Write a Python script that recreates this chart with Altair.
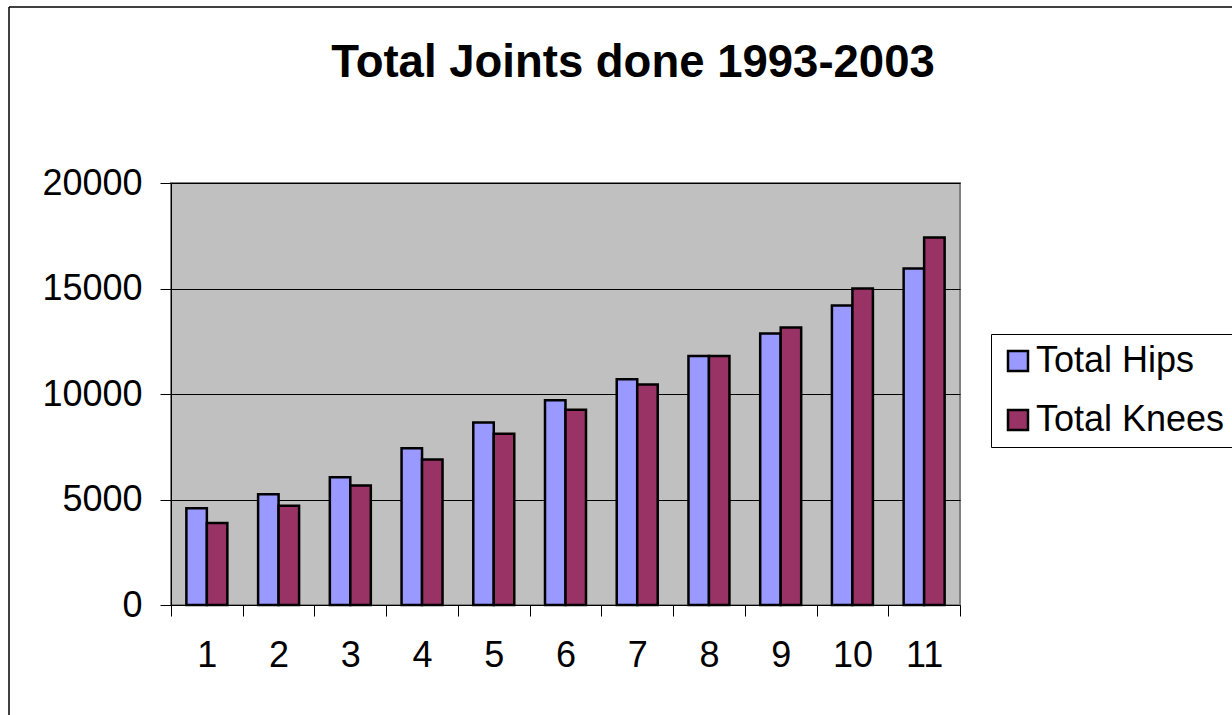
import altair as alt
import pandas as pd

# Yearly joint replacement totals (years numbered 1..11 = 1993..2003)
years = ["1", "2", "3", "4", "5", "6", "7", "8", "9", "10", "11"]
hips = [4590, 5250, 6060, 7430, 8650, 9700, 10700, 11800, 12870, 14200, 15950]
knees = [3890, 4700, 5660, 6890, 8120, 9250, 10450, 11800, 13150, 15000, 17420]
series = ["Total Hips", "Total Knees"]
colors = ["#9999FF", "#993366"]
y_ticks = [0, 5000, 10000, 15000, 20000]
title_text = "Total Joints done 1993-2003"

rows = []
for yr, h, k in zip(years, hips, knees):
    rows.append({"year": yr, "series": series[0], "value": h})
    rows.append({"year": yr, "series": series[1], "value": k})
df = pd.DataFrame(rows)

FONT = "Liberation Sans"
W, H = 789, 422
PAD_L, PAD_T = 171, 183

bars = alt.Chart(df).mark_bar(stroke="black", strokeWidth=2.5).encode(
    x=alt.X(
        "year:N",
        sort=years,
        scale=alt.Scale(paddingInner=0, paddingOuter=0),
        axis=alt.Axis(
            title=None,
            labelAngle=0,
            labelFontSize=36,
            labelColor="black",
            labelPadding=22,
            labelBaseline="top",
            tickBand="extent",
            tickColor="black",
            tickSize=11,
            domainColor="black",
            domainWidth=1,
            grid=False,
        ),
    ),
    xOffset=alt.XOffset(
        "series:N", sort=series, scale=alt.Scale(paddingInner=0, paddingOuter=0.75)
    ),
    y=alt.Y(
        "value:Q",
        scale=alt.Scale(domain=[0, 20000], nice=False),
        axis=alt.Axis(
            title=None,
            values=y_ticks,
            format="d",
            labelFontSize=36,
            labelColor="black",
            labelPadding=18,
            tickColor="black",
            tickSize=11,
            domainColor="black",
            domainWidth=1,
            grid=True,
            gridColor="black",
            gridWidth=1,
        ),
    ),
    color=alt.Color(
        "series:N",
        scale=alt.Scale(domain=series, range=colors),
        legend=alt.Legend(
            title=None,
            orient="none",
            legendX=820,
            legendY=151,
            labelFontSize=36,
            labelColor="black",
            labelLimit=400,
            labelOffset=0,
            symbolType="square",
            symbolSize=400,
            symbolStrokeColor="black",
            symbolStrokeWidth=2.5,
            symbolOpacity=1,
            strokeColor="black",
            fillColor="white",
            padding=9,
            rowPadding=23,
        ),
    ),
)

dummy = pd.DataFrame({"a": [0]})

# Chart title, centred over the whole chart frame
title = alt.Chart(dummy).mark_text(
    font=FONT, fontSize=45.5, fontWeight="bold", color="black",
    align="center", baseline="alphabetic",
).encode(
    text=alt.value(title_text),
    x=alt.value(633 - PAD_L),
    y=alt.value(77 - PAD_T),
)

# Outer chart frame (left and top edges)
frame_left = alt.Chart(dummy).mark_rule(color="black", strokeWidth=1.5).encode(
    x=alt.value(9 - PAD_L), y=alt.value(7 - PAD_T), y2=alt.value(715)
)
frame_top = alt.Chart(dummy).mark_rule(color="black", strokeWidth=1.5).encode(
    y=alt.value(7 - PAD_T), x=alt.value(9 - PAD_L), x2=alt.value(1300)
)

chart = (
    alt.layer(bars, title, frame_left, frame_top)
    .properties(
        width=W,
        height=H,
        autosize=alt.AutoSizeParams(type="none"),
        padding={"left": PAD_L, "top": PAD_T, "right": 1232 - PAD_L - W, "bottom": 715 - PAD_T - H},
    )
    .configure(font=FONT, background="white")
    .configure_view(fill="#C0C0C0", stroke="#808080", strokeWidth=2)
)

chart.save("out.html", embed_options={"renderer": "svg", "actions": False})
